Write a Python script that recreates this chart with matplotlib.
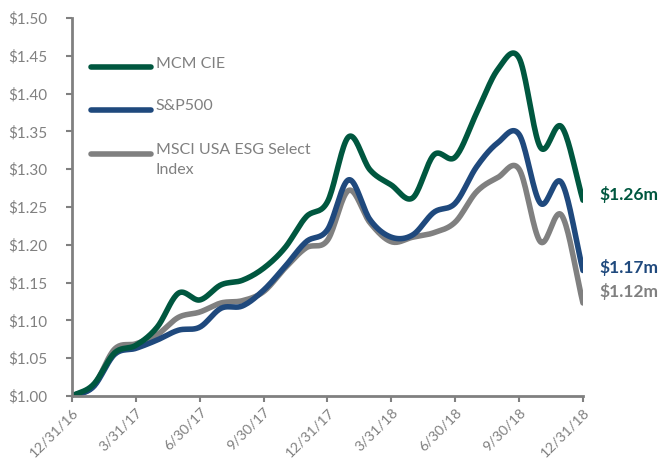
import numpy as np
import matplotlib
matplotlib.use("Agg")
import matplotlib.pyplot as plt

# month-end growth of $1, 12/31/16 .. 12/31/18
months = np.arange(25)
mcm = [1.000, 1.015, 1.057, 1.067, 1.091, 1.136, 1.127, 1.147, 1.153, 1.169, 1.196, 1.237, 1.257,
       1.343, 1.299, 1.279, 1.262, 1.319, 1.316, 1.374, 1.432, 1.447, 1.329, 1.356, 1.259]
sp500 = [1.000, 1.012, 1.055, 1.063, 1.074, 1.087, 1.091, 1.116, 1.119, 1.140, 1.171, 1.204, 1.220,
         1.286, 1.233, 1.210, 1.213, 1.243, 1.255, 1.303, 1.335, 1.346, 1.255, 1.282, 1.166]
msci = [1.000, 1.013, 1.062, 1.069, 1.081, 1.104, 1.111, 1.123, 1.126, 1.138, 1.169, 1.196, 1.206,
        1.272, 1.229, 1.204, 1.210, 1.216, 1.230, 1.270, 1.289, 1.300, 1.204, 1.239, 1.123]
tick_pos = [0, 3, 6, 9, 12, 15, 18, 21, 24]
tick_labels = ["12/31/16", "3/31/17", "6/30/17", "9/30/17", "12/31/17",
               "3/31/18", "6/30/18", "9/30/18", "12/31/18"]
names = ["MCM CIE", "S&P500", "MSCI USA ESG Select\nIndex"]
end_labels = ["$1.26m", "$1.17m", "$1.12m"]

GREEN = "#00573f"
BLUE = "#1f497d"
GREY = "#808080"
TXT = "#808080"

plt.rcParams['font.family'] = ['Lato', 'DejaVu Sans']


def smooth(x, y, n=20):
    # catmull-rom curve like excel's smoothed line
    x = np.asarray(x, float)
    y = np.asarray(y, float)
    px = np.concatenate([[2 * x[0] - x[1]], x, [2 * x[-1] - x[-2]]])
    py = np.concatenate([[2 * y[0] - y[1]], y, [2 * y[-1] - y[-2]]])
    xs, ys = [], []
    t = np.linspace(0, 1, n, endpoint=False)
    for i in range(1, len(px) - 2):
        for p, out in ((px, xs), (py, ys)):
            p0, p1, p2, p3 = p[i - 1], p[i], p[i + 1], p[i + 2]
            out.extend(0.5 * (2 * p1 + (-p0 + p2) * t + (2 * p0 - 5 * p1 + 4 * p2 - p3) * t ** 2
                              + (-p0 + 3 * p1 - 3 * p2 + p3) * t ** 3))
    xs.append(x[-1])
    ys.append(y[-1])
    return xs, ys


fig = plt.figure(figsize=(6.67, 4.62), dpi=100)
ax = fig.add_axes([0.108, 0.143, 0.766, 0.818])

series = [(mcm, GREEN), (sp500, BLUE), (msci, GREY)]
for vals, col in series[::-1]:
    sx, sy = smooth(months, vals)
    ax.plot(sx, sy, color=col, lw=4, solid_capstyle="round")

ax.set_xlim(0, 24)
ax.set_ylim(1.0, 1.5)
ax.set_yticks(np.arange(1.0, 1.501, 0.05))
ax.set_yticklabels(["$%.2f" % v for v in np.arange(1.0, 1.501, 0.05)])
ax.set_xticks(tick_pos)
ax.set_xticklabels(tick_labels, rotation=45, ha="right", rotation_mode="anchor")

for s in ["top", "right"]:
    ax.spines[s].set_visible(False)
for s in ["left", "bottom"]:
    ax.spines[s].set_color(GREY)
    ax.spines[s].set_linewidth(2)
ax.tick_params(colors=GREY, labelcolor=TXT, labelsize=11, width=1.5, length=4)
ax.tick_params(axis="y", pad=14)
ax.tick_params(axis="x", pad=3, labelsize=10.3)

# end value labels
offs = [0.007, 0.004, 0.015]
for (vals, col), lab, o in zip(series, end_labels, offs):
    ax.annotate(lab, (24, vals[-1] + o), xytext=(12, 0), textcoords="offset points",
                color=col, fontsize=12.5, fontweight="bold", va="center", ha="left",
                annotation_clip=False)

# legend, drawn by hand so the wrapped label hangs below its line
leg_y = [0.870, 0.757, 0.640]
for (vals, col), name, y in zip(series, names, leg_y):
    ax.plot([0.038, 0.154], [y, y], transform=ax.transAxes, color=col, lw=4,
            solid_capstyle="round", clip_on=False)
    ax.text(0.164, y + 0.028, name, transform=ax.transAxes, color=TXT, fontsize=11.5,
            va="top", ha="left", linespacing=1.5)

fig.savefig("out.png", dpi=100)
